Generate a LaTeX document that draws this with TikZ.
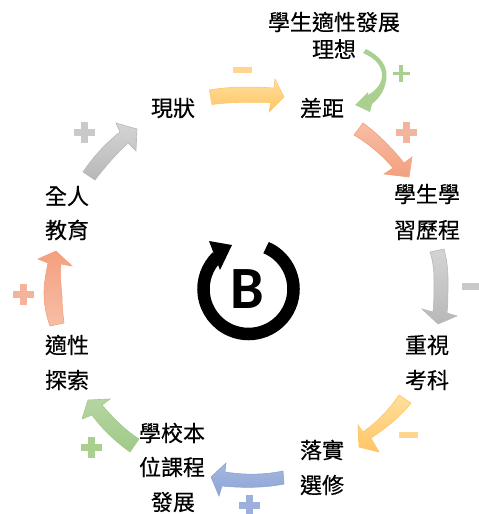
\documentclass[tikz,border=0pt]{standalone}
\usepackage{fontspec}
\setmainfont{Carlito}
\newfontfamily\cjk[FakeBold=0.35]{Noto Sans CJK TC}
\usetikzlibrary{calc}
\definecolor{ylA}{HTML}{FFDF9C}\definecolor{ylB}{HTML}{FFC566}
\definecolor{saA}{HTML}{F6BEA6}\definecolor{saB}{HTML}{F4A07E}
\definecolor{grA}{HTML}{D4D4D4}\definecolor{grB}{HTML}{B8B8B8}
\definecolor{gnA}{HTML}{B6D4A2}\definecolor{gnB}{HTML}{A0CA88}
\definecolor{blA}{HTML}{A6B8DE}\definecolor{blB}{HTML}{8CA4D6}
\definecolor{ylS}{HTML}{FFD68F}\definecolor{saS}{HTML}{F4B49C}
\definecolor{grS}{HTML}{C9C9C9}\definecolor{gnS}{HTML}{A9D08E}\definecolor{blS}{HTML}{9DB0DD}
\tikzset{
  x=1pt,y=-1pt,
  label text/.style={font=\cjk\fontsize{22}{22}\selectfont,text=black,inner sep=0pt,anchor=center},
  block arrow/.style={draw=#1,line width=0.6pt,line join=miter},
  signbar/.style={fill=#1,draw=none},
}
\newcommand{\plussign}[4]{%
  \fill[#4] (#1-#3/2,#2-#3/6) rectangle (#1+#3/2,#2+#3/6);
  \fill[#4] (#1-#3/6,#2-#3/2) rectangle (#1+#3/6,#2+#3/2);
}
\begin{document}
\begin{tikzpicture}
\useasboundingbox (0,0) rectangle (479,514);
\clip (0,0) rectangle (479,514);
% labels
\node[label text] (ideal1) at (334,22) {學生適性發展};
\node[label text] (ideal2) at (334,49) {理想};
\node[label text] (gap) at (322,108) {差距};
\node[label text] (now) at (173,108) {現狀};
\node[label text] (port1) at (427,194) {學生學};
\node[label text] (port2) at (427,230) {習歷程};
\node[label text] (exam1) at (427,345) {重視};
\node[label text] (exam2) at (427,380) {考科};
\node[label text] (elect1) at (322,450) {落實};
\node[label text] (elect2) at (322,485) {選修};
\node[label text] (sch1) at (172,433) {學校本};
\node[label text] (sch2) at (172,467) {位課程};
\node[label text] (sch3) at (173,502) {發展};
\node[label text] (apt1) at (67,345) {適性};
\node[label text] (apt2) at (67,380) {探索};
\node[label text] (whole1) at (67,196) {全人};
\node[label text] (whole2) at (67,230) {教育};
% yellow top arrow
\shade[top color=ylA,bottom color=ylB,block arrow=ylB]
  (209.5,90) .. controls (230,86.5) and (250,86.5) .. (274,88) -- (275,79) -- (284,97) -- (269,112) -- (271,102.5)
  .. controls (250,102) and (230,102) .. (212,104.5) -- cycle;
% green thin arrow
\fill[gnS] (366,49) .. controls (380,56) and (386.5,65) .. (386.5,75)
  .. controls (386.5,87) and (381,97) .. (372,104) -- (370,112) -- (355,105) -- (368,92) -- (368,95)
  .. controls (377,90) and (382,83) .. (382,75) .. controls (382,66) and (375,58) .. (363,53) -- cycle;
% salmon upper arrow
\shade[top color=saA,bottom color=saB,block arrow=saB]
  (363,123) .. controls (378,134) and (392,148) .. (404,163) -- (412,157) -- (409,177) -- (384,174) -- (393,168)
  .. controls (382,155) and (369,144) .. (354,135) -- cycle;
% gray right arrow
\shade[top color=grA,bottom color=grB,block arrow=grB]
  (430,252) -- (444,249) .. controls (447,260) and (448,270) .. (448,280)
  .. controls (448,292) and (448,302) .. (447,313) -- (457,316) -- (438,324) -- (422,309) -- (433,312)
  .. controls (434,302) and (434,292) .. (434,280) .. controls (434,270) and (433,261) .. (430,252) -- cycle;
% yellow lower arrow
\shade[top color=ylA,bottom color=ylB,block arrow=ylB]
  (399,395) -- (411,403) .. controls (400,417) and (386,428) .. (371,438) -- (379,452) -- (359,447) -- (358,425) -- (363,432)
  .. controls (377,422) and (389,410) .. (399,395) -- cycle;
% blue arrow
\shade[top color=blA,bottom color=blB,block arrow=blB]
  (283,471) -- (284,484) .. controls (264,488) and (243,488) .. (222,486) -- (219,496) -- (211,477) -- (226,463) -- (225,472)
  .. controls (244,475) and (264,475) .. (283,471) -- cycle;
% green thick arrow
\shade[top color=gnA,bottom color=gnB,block arrow=gnB]
  (139,439) -- (130,452) .. controls (116,442) and (103,430) .. (92,415) -- (82,419) -- (88,400) -- (110,399) -- (102,405)
  .. controls (113,418) and (125,430) .. (139,439) -- cycle;
% salmon left arrow
\shade[top color=saA,bottom color=saB,shading angle=180,block arrow=saB]
  (50,326) .. controls (46,315) and (44,304) .. (44,293) .. controls (44,283) and (46,273) .. (48,263)
  -- (38,259) -- (56,251) -- (72,266) -- (61,264)
  .. controls (60,275) and (61,286) .. (62,297) .. controls (62,306) and (63,315) .. (64,323) -- cycle;
% gray left arrow
\shade[top color=grA,bottom color=grB,block arrow=grB]
  (83,172) -- (95,180) .. controls (105,167) and (116,154) .. (128,143) -- (136,151) -- (137,129) -- (116,123) -- (120,132)
  .. controls (106,143) and (93,157) .. (83,172) -- cycle;
% signs
\fill[signbar=ylS] (233,67) rectangle (252,73);
\fill[gnS] (392.5,71.5) rectangle (409.5,75);
\fill[gnS] (399.2,65) rectangle (402.8,82);
\plussign{406}{132}{21}{saS}
\plussign{84}{132}{21}{grS}
\plussign{23}{294}{21}{saS}
\plussign{91}{447}{21}{gnS}
\plussign{249}{505}{21}{blS}
\fill[signbar=grS] (462,283) rectangle (479,290);
\fill[signbar=ylS] (399,432) rectangle (418,438);
% balancing symbol
\coordinate (ringc) at (248.5,289);
\draw[line width=12.5pt,black] ($(ringc)+(67:45 and -45)$) arc[start angle=-67,end angle=226,radius=45];
\fill[black] (209,241) -- (232,245) -- (220,270) -- cycle;
\node[font=\bfseries\fontsize{60}{60}\selectfont,inner sep=0pt] (bal) at (247.5,289) {B};
\end{tikzpicture}
\end{document}
